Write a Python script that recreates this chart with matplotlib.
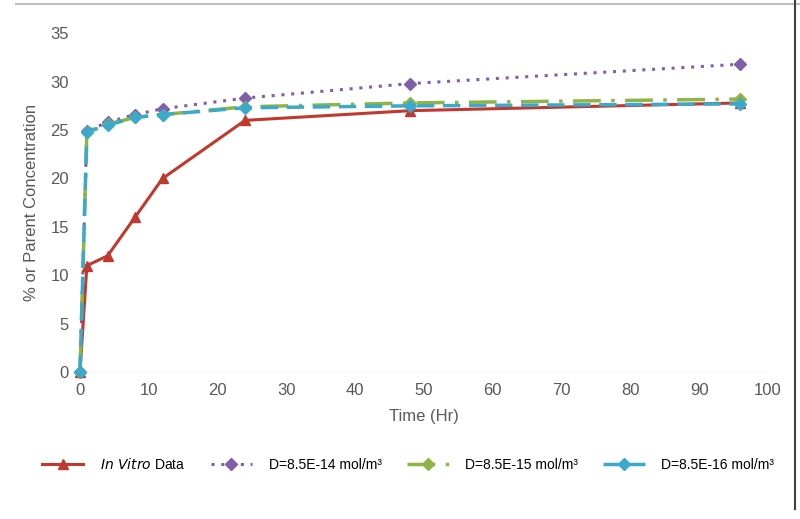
import matplotlib.pyplot as plt
from matplotlib.lines import Line2D

plt.rcParams['font.family'] = ['Liberation Sans', 'DejaVu Sans']

time = [0, 1, 4, 8, 12, 24, 48, 96]
in_vitro = [0, 11, 12, 16, 20, 26, 27, 27.8]
d14 = [0, 24.9, 25.8, 26.6, 27.2, 28.3, 29.8, 31.8]
d15 = [0, 24.8, 25.6, 26.3, 26.6, 27.4, 27.8, 28.2]
d16 = [0, 24.8, 25.5, 26.3, 26.6, 27.3, 27.5, 27.7]

fig = plt.figure(figsize=(8, 5.19), dpi=100)
ax = fig.add_axes([0.1, 0.283, 0.86, 0.653])

ax.plot(time, d14, c="#7f5fa8", linestyle=(0, (1, 2.2)), linewidth=2.2,
        marker="D", markersize=6, label="D=8.5E-14 mol/m\u00b3", clip_on=False)
ax.plot(time, in_vitro, c="#c0392f", linewidth=2.2,
        marker="^", markersize=7, label="In Vitro Data", clip_on=False)
ax.plot(time, d15, c="#8db445", linestyle=(0, (8, 3, 1, 3)), linewidth=2.5,
        marker="D", markersize=6, label="D=8.5E-15 mol/m\u00b3", clip_on=False)
ax.plot(time, d16, c="#3ba9c9", linestyle=(0, (5, 2.5)), linewidth=2.5,
        marker="D", markersize=6, label="D=8.5E-16 mol/m\u00b3", clip_on=False)

ax.set_xlim(0, 100)
ax.set_ylim(0, 35)
ax.set_xticks(range(0, 101, 10))
ax.set_yticks(range(0, 36, 5))
for s in ax.spines.values():
    s.set_visible(False)
ax.axhline(0, color="#d9d9d9", linewidth=1, zorder=0)
ax.tick_params(length=0, labelsize=12, labelcolor="#595959", pad=8)
ax.set_xlabel("Time (Hr)", fontsize=12, color="#595959", labelpad=8)
ax.set_ylabel("% or Parent Concentration", fontsize=12, color="#595959", labelpad=8)

handles = [
    Line2D([], [], c="#c0392f", linewidth=2.2, marker="^", markersize=7),
    Line2D([], [], c="#7f5fa8", linestyle=(0, (1, 2.2)), linewidth=2.2, marker="D", markersize=6),
    Line2D([], [], c="#8db445", linestyle=(0, (8, 3, 1, 3)), linewidth=2.5, marker="D", markersize=6),
    Line2D([], [], c="#3ba9c9", linestyle=(0, (5, 2.5)), linewidth=2.5, marker="D", markersize=6),
]
labels = ["$\\it{In\\ Vitro}$ Data", "D=8.5E-14 mol/m\u00b3",
          "D=8.5E-15 mol/m\u00b3", "D=8.5E-16 mol/m\u00b3"]
fig.legend(handles, labels, loc="center", bbox_to_anchor=(0.51, 0.105), ncol=4,
           frameon=False, fontsize=10, handlelength=3, handletextpad=1.2,
           columnspacing=1.8)

fig.add_artist(Line2D([0.02, 1], [0.992, 0.992], color="#bfbfbf", linewidth=1.5))
fig.add_artist(Line2D([0.994, 0.994], [0.02, 1], color="#404040", linewidth=1.5))

fig.savefig("out.png", dpi=100)
